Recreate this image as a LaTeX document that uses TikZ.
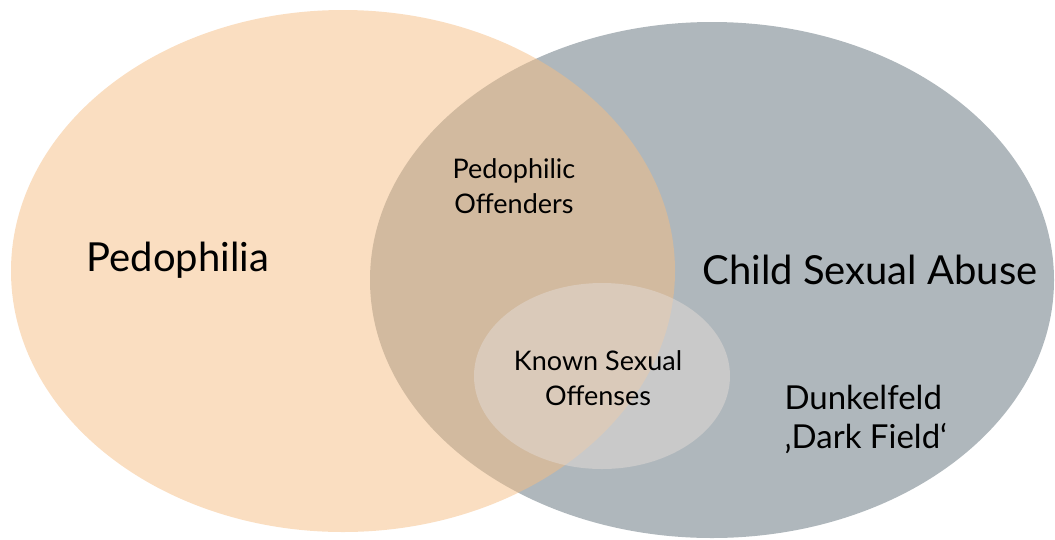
\documentclass[tikz,border=0pt]{standalone}
\usepackage{fontspec}
\setmainfont{Lato}
\definecolor{peach}{HTML}{F5BD83}
\definecolor{slategray}{HTML}{AFB7BC}
\definecolor{knownfill}{HTML}{E3DBD6}

\tikzset{
  bigtext/.style = {anchor = base, font = \fontsize{40}{48}\selectfont},
  midtext/.style = {anchor = base west, align = left, font = \fontsize{33}{39}\selectfont},
  smalltext/.style = {anchor = base, align = center, font = \fontsize{27}{35}\selectfont}
}

\begin{document}
\begin{tikzpicture}[x = 1pt, y = -1pt]
  \useasboundingbox (0,0) rectangle (1055,539);
  \clip (0,0) rectangle (1055,539);
  \coordinate (P) at (343,271);
  \coordinate (C) at (712,280);
  \coordinate (K) at (602,376);
  \fill [slategray] (C) ellipse [x radius = 342, y radius = 258];
  \fill [peach, opacity = 0.5] (P) ellipse [x radius = 332, y radius = 261];
  \fill [knownfill, opacity = 0.5] (K) ellipse [x radius = 128, y radius = 93];
  \node [bigtext] (pedo) at (178,271) {Pedophilia};
  \node [bigtext] (csa) at (870,284) {Child Sexual Abuse};
  % base anchor sits on the last line
  \node [smalltext] (offenders) at (514,213) {Pedophilic\\Offenders};
  \node [smalltext] (known) at (598,405) {Known Sexual\\Offenses};
  \node [midtext] (dark) at (781,448) {Dunkelfeld\\‚Dark Field‘};
\end{tikzpicture}
\end{document}
